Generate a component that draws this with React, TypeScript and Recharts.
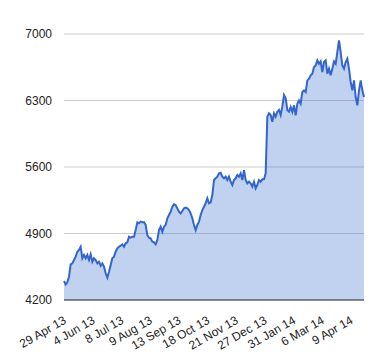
import React from 'react'
import { AreaChart, Area, XAxis, YAxis, CartesianGrid } from 'recharts'

// Index values, one every ~1.7px of plot width
const VALUES = [
  4400, 4365, 4386, 4445, 4575, 4586, 4621, 4656, 4708, 4726,
  4761, 4639, 4674, 4639, 4674, 4621, 4681, 4603, 4639, 4621,
  4586, 4603, 4561, 4586, 4551, 4481, 4435, 4498, 4568, 4639,
  4656, 4708, 4744, 4761, 4772, 4786, 4761, 4797, 4807, 4866,
  4856, 4866, 4866, 4937, 5018, 5007, 5025, 5018, 5018, 4990,
  4884, 4856, 4849, 4814, 4807, 4786, 4832, 4937, 4972, 4919,
  4972, 4990, 5060, 5095, 5130, 5182, 5207, 5200, 5165, 5130,
  5112, 5137, 5165, 5172, 5165, 5147, 5112, 5060, 4990, 4937,
  4990, 5025, 5095, 5147, 5182, 5218, 5270, 5218, 5228, 5305,
  5463, 5481, 5498, 5533, 5540, 5498, 5481, 5498, 5463, 5498,
  5445, 5410, 5463, 5481, 5516, 5498, 5533, 5463, 5568, 5463,
  5428, 5445, 5428, 5393, 5445, 5375, 5410, 5463, 5445, 5470,
  5470, 5533, 6130, 6165, 6147, 6077, 6165, 6130, 6182, 6200,
  6147, 6235, 6358, 6323, 6200, 6182, 6231, 6179, 6249, 6144,
  6266, 6301, 6266, 6389, 6407, 6389, 6512, 6529, 6565, 6582,
  6653, 6670, 6723, 6687, 6712, 6600, 6705, 6723, 6582, 6635,
  6565, 6635, 6712, 6687, 6810, 6933, 6810, 6670, 6635, 6705,
  6740, 6635, 6495, 6407, 6512, 6337, 6249, 6407, 6512, 6407,
  6337,
]

const TICK_LABELS = [
  '29 Apr 13', '4 Jun 13', '8 Jul 13', '9 Aug 13', '13 Sep 13', '18 Oct 13',
  '21 Nov 13', '27 Dec 13', '31 Jan 14', '6 Mar 14', '9 Apr 14',
]
// position of each label along the series (point index)
const TICK_INDEX = [0, 17.2, 34.4, 51.6, 68.8, 86, 103.2, 120.4, 137.6, 154.8, 172]

const Y_TICKS = [4200, 4900, 5600, 6300, 7000]

const FONT = '"Liberation Sans", Arial, sans-serif'

const data = VALUES.map((v, i) => ({ i, v }))

function SlantTick(props: any) {
  const { x, y, index } = props
  return (
    <g transform={`translate(${x + 1},${y + 17})`}>
      <text
        textAnchor="end"
        transform="rotate(-30)"
        dy="0.35em"
        fill="#222"
        fontSize={12}
        fontFamily={FONT}
      >
        {TICK_LABELS[index]}
      </text>
    </g>
  )
}

export default function App() {
  return (
    <div style={{ position: 'absolute', left: 0, top: 0, width: 380, height: 360, background: '#fff' }}>
      <AreaChart
        width={380}
        height={360}
        data={data}
        margin={{ top: 34, right: 16, bottom: 0, left: 0 }}
      >
        <CartesianGrid vertical={false} stroke="#ccc" />
        <XAxis
          dataKey="i"
          type="number"
          domain={[0, VALUES.length - 1]}
          ticks={TICK_INDEX}
          interval={0}
          height={60}
          tickLine={false}
          tickSize={0}
          axisLine={{ stroke: '#333' }}
          tick={<SlantTick />}
        />
        <YAxis
          domain={[4200, 7000]}
          ticks={Y_TICKS}
          width={64}
          tickLine={false}
          axisLine={false}
          tickSize={0}
          tickMargin={12}
          tick={{ fill: '#222', fontSize: 12, fontFamily: FONT }}
        />
        <Area
          type="linear"
          dataKey="v"
          stroke="#3366cc"
          strokeWidth={2}
          fill="#3366cc"
          fillOpacity={0.3}
          dot={false}
          activeDot={false}
          isAnimationActive={false}
        />
      </AreaChart>
    </div>
  )
}
